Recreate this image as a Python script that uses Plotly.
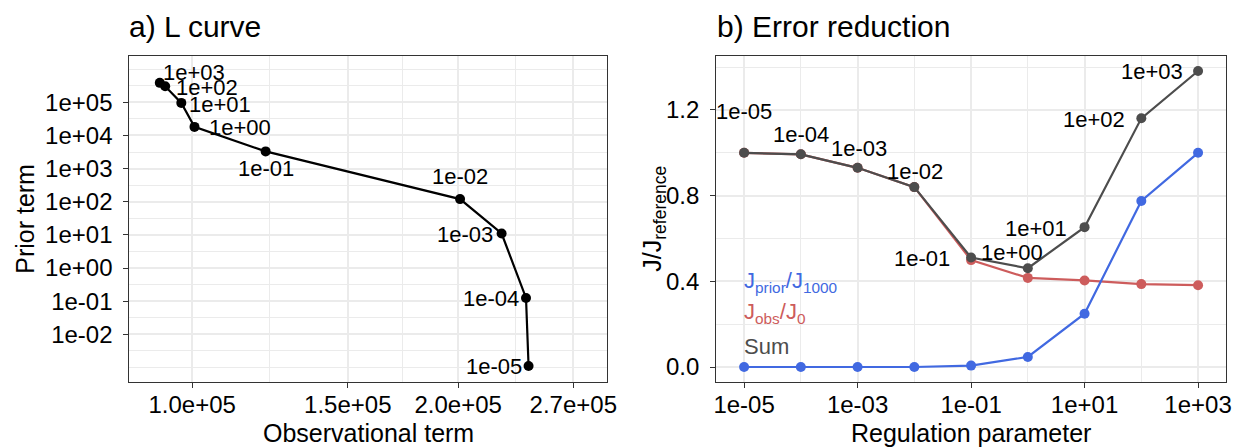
import numpy as np
import plotly.graph_objects as go

# ---------------- data ----------------
lambda_labels = ["1e-05", "1e-04", "1e-03", "1e-02", "1e-01",
                 "1e+00", "1e+01", "1e+02", "1e+03"]
reg_param = [1e-5, 1e-4, 1e-3, 1e-2, 1e-1, 1e0, 1e1, 1e2, 1e3]

# a) L curve
obs_term = [2.403e5, 2.387e5, 2.24e5, 2.01e5, 1.211e5, 1.006e5, 9.72e4, 9.32e4, 9.19e4]
prior_term = [0.0011, 0.125, 11.0, 120.0, 3300.0, 1.81e4, 9.6e4, 3.04e5, 3.86e5]

# b) Error reduction
j_obs = [1.000, 0.993, 0.930, 0.840, 0.499, 0.416, 0.404, 0.387, 0.382]
j_prior = [0.0, 0.0, 0.0, 0.0, 0.0065, 0.047, 0.249, 0.775, 1.000]
j_sum = [1.000, 0.993, 0.930, 0.840, 0.511, 0.461, 0.653, 1.161, 1.382]

# tick labels
lx_tickvals = [1.0e5, 1.5e5, 2.0e5, 2.7e5]
lx_ticktext = ["1.0e+05", "1.5e+05", "2.0e+05", "2.7e+05"]
ly_tickvals = [1e-2, 1e-1, 1e0, 1e1, 1e2, 1e3, 1e4, 1e5]
ly_ticktext = ["1e-02", "1e-01", "1e+00", "1e+01", "1e+02", "1e+03", "1e+04", "1e+05"]
rx_tickvals = [1e-5, 1e-3, 1e-1, 1e1, 1e3]
rx_ticktext = ["1e-05", "1e-03", "1e-01", "1e+01", "1e+03"]
ry_tickvals = [0.0, 0.4, 0.8, 1.2]
ry_ticktext = ["0.0", "0.4", "0.8", "1.2"]

# ---------------- styles ----------------
W, H = 1244, 448
FONT = "Liberation Sans, Arial, sans-serif"
BLUE = "#4169E1"
RED = "#CD5C5C"
GREY = "#4D4D4D"
GRID = "#EBEBEB"
BORDER = "#333333"
TICK_SIZE = 24
LABEL_SIZE = 22
AXTITLE_SIZE = 25
TITLE_SIZE = 30

# label placement styles (xanchor, xshift px, yshift px)
left_label_style = [("right", -5, 0), ("right", -5, -1), ("right", -7, -1),
                    ("center", 0, 23), ("center", 0, -17), ("left", 13, -1),
                    ("left", 6, -2), ("left", 9, -1), ("left", 1, 10)]
right_label_style = [("center", 0, 41), ("center", 0, 20), ("center", 1, 19),
                     ("center", 1, 16), ("right", -19, -1), ("center", -16, 16),
                     ("right", -16, -1), ("right", -14, -1), ("right", -13, -1)]

# panel domains (paper fractions)
Lx = [127.7 / W, 610.3 / W]
Rx = [720.3 / W, 1235.0 / W]
Y = [1 - 382.0 / H, 1 - 56.0 / H]

fig = go.Figure()

# ---- panel a ----
fig.add_trace(go.Scatter(x=obs_term, y=prior_term, mode="lines+markers",
                         line=dict(color="black", width=2.2),
                         marker=dict(color="black", size=10),
                         xaxis="x", yaxis="y", showlegend=False))

# ---- panel b ----
fig.add_trace(go.Scatter(x=reg_param, y=j_obs, mode="lines+markers",
                         line=dict(color=RED, width=2.2),
                         marker=dict(color=RED, size=10),
                         xaxis="x2", yaxis="y2", showlegend=False))
fig.add_trace(go.Scatter(x=reg_param, y=j_sum, mode="lines+markers",
                         line=dict(color=GREY, width=2.2),
                         marker=dict(color=GREY, size=10),
                         xaxis="x2", yaxis="y2", showlegend=False))
fig.add_trace(go.Scatter(x=reg_param, y=j_prior, mode="lines+markers",
                         line=dict(color=BLUE, width=2.2),
                         marker=dict(color=BLUE, size=10),
                         xaxis="x2", yaxis="y2", showlegend=False))

annotations = []
for lab, xv, yv, (xa, xs, ys) in zip(lambda_labels, obs_term, prior_term, left_label_style):
    annotations.append(dict(x=np.log10(xv), y=np.log10(yv), xref="x", yref="y",
                            text=lab, showarrow=False, xanchor=xa, yanchor="middle",
                            xshift=xs, yshift=ys,
                            font=dict(family=FONT, size=LABEL_SIZE, color="black")))
for lab, xv, yv, (xa, xs, ys) in zip(lambda_labels, reg_param, j_sum, right_label_style):
    annotations.append(dict(x=np.log10(xv), y=yv, xref="x2", yref="y2",
                            text=lab, showarrow=False, xanchor=xa, yanchor="middle",
                            xshift=xs, yshift=ys,
                            font=dict(family=FONT, size=LABEL_SIZE, color="black")))

# legend-like labels in panel b
legend_items = [("J<sub>prior</sub>/J<sub>1000</sub>", BLUE, 0.395),
                ("J<sub>obs</sub>/J<sub>0</sub>", RED, 0.250),
                ("Sum", GREY, 0.094)]
for txt, col, yv in legend_items:
    annotations.append(dict(x=np.log10(reg_param[0]), y=yv, xref="x2", yref="y2",
                            text=txt, showarrow=False, xanchor="left", yanchor="middle",
                            xshift=-2,
                            font=dict(family=FONT, size=LABEL_SIZE, color=col)))

# titles
annotations.append(dict(x=125.0 / W, y=1 - 27.0 / H, xref="paper", yref="paper",
                        text="a) L curve", showarrow=False, xanchor="left", yanchor="middle",
                        font=dict(family=FONT, size=TITLE_SIZE, color="black")))
annotations.append(dict(x=719.0 / W, y=1 - 27.0 / H, xref="paper", yref="paper",
                        text="b) Error reduction", showarrow=False, xanchor="left", yanchor="middle",
                        font=dict(family=FONT, size=TITLE_SIZE, color="black")))
# axis titles
annotations.append(dict(x=(Lx[0] + Lx[1]) / 2, y=1 - 433.0 / H, xref="paper", yref="paper",
                        text="Observational term", showarrow=False, xanchor="center", yanchor="middle",
                        font=dict(family=FONT, size=AXTITLE_SIZE, color="black")))
annotations.append(dict(x=(Rx[0] + Rx[1]) / 2, y=1 - 433.0 / H, xref="paper", yref="paper",
                        text="Regulation parameter", showarrow=False, xanchor="center", yanchor="middle",
                        font=dict(family=FONT, size=AXTITLE_SIZE, color="black")))
annotations.append(dict(x=22.0 / W, y=(Y[0] + Y[1]) / 2, xref="paper", yref="paper",
                        text="Prior term", showarrow=False, textangle=-90,
                        xanchor="center", yanchor="middle",
                        font=dict(family=FONT, size=AXTITLE_SIZE, color="black")))
annotations.append(dict(x=657.0 / W, y=(Y[0] + Y[1]) / 2, xref="paper", yref="paper",
                        text="J/J<sub>reference</sub>", showarrow=False, textangle=-90,
                        xanchor="center", yanchor="middle",
                        font=dict(family=FONT, size=AXTITLE_SIZE, color="black")))

# minor grid positions (ggplot-style midpoints)
lx_minor = [np.sqrt(a * b) for a, b in zip(lx_tickvals[:-1], lx_tickvals[1:])]
ly_minor = [10 ** (k + 0.5) for k in range(-3, 6)] + [1e-3, 1e6]
rx_minor = [1e-4, 1e-2, 1e0, 1e2]
ry_minor = [0.2, 0.6, 1.0, 1.4]

common = dict(showline=True, mirror=True, linecolor=BORDER, linewidth=1.3,
              ticks="outside", ticklen=5, tickwidth=1.3, tickcolor=BORDER,
              showgrid=True, gridcolor=GRID, gridwidth=1.6, zeroline=False,
              tickfont=dict(family=FONT, size=TICK_SIZE, color="black"),
              tickmode="array")

def minor(vals):
    return dict(tickmode="array", tickvals=vals, showgrid=True,
                gridcolor=GRID, gridwidth=0.8, ticks="")

fig.update_layout(
    width=W, height=H,
    margin=dict(l=0, r=0, t=0, b=0),
    paper_bgcolor="white", plot_bgcolor="white",
    annotations=annotations,
    xaxis=dict(domain=Lx, type="log", range=[4.929, 5.470],
               tickvals=lx_tickvals, ticktext=lx_ticktext, minor=minor(lx_minor),
               anchor="y", ticklabelstandoff=-4, **common),
    yaxis=dict(domain=Y, type="log", range=[-3.44, 6.397],
               tickvals=ly_tickvals, ticktext=ly_ticktext, minor=minor(ly_minor),
               anchor="x", ticklabelstandoff=6, **common),
    xaxis2=dict(domain=Rx, type="log", range=[-5.489, 3.494],
                tickvals=rx_tickvals, ticktext=rx_ticktext, minor=minor(rx_minor),
                anchor="y2", ticklabelstandoff=-4, **common),
    yaxis2=dict(domain=Y, range=[-0.070, 1.452],
                tickvals=ry_tickvals, ticktext=ry_ticktext, minor=minor(ry_minor),
                anchor="x2", ticklabelstandoff=6, **common),
)

fig.write_html("out.html", config={"displayModeBar": False},
               post_script="document.body.style.margin='0';document.body.style.overflow='hidden';")
